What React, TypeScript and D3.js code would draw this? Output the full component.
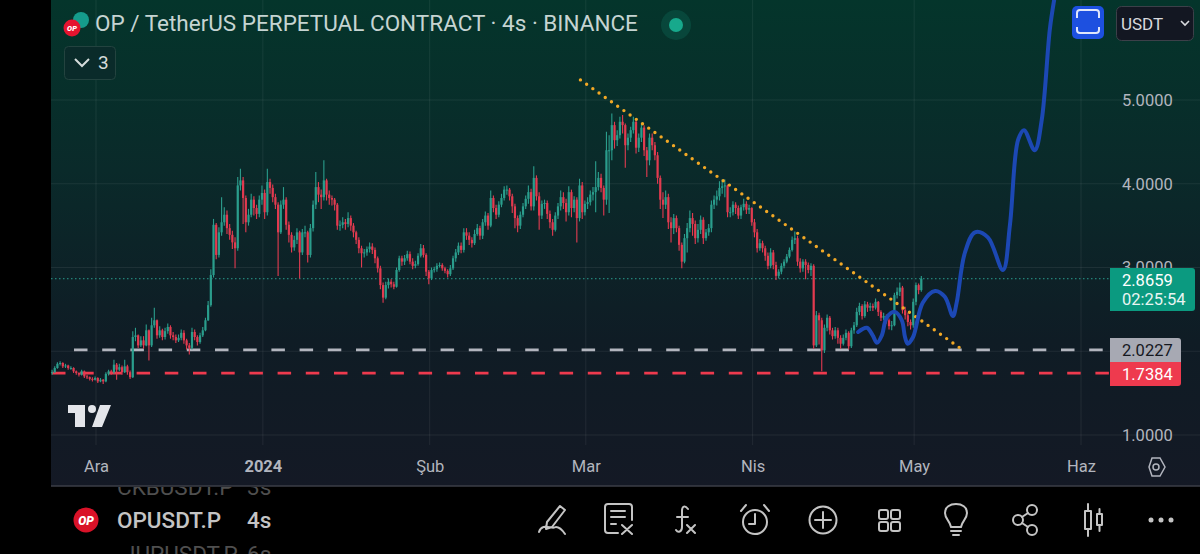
import { useEffect, useRef } from "react";
import * as d3 from "d3";

// 12h bars, oldest first
const closes = [
  1.75, 1.8, 1.85, 1.86, 1.82, 1.83, 1.8, 1.8, 1.76, 1.74,
  1.72, 1.76, 1.7, 1.69, 1.67, 1.66, 1.68, 1.64, 1.66, 1.64,
  1.73, 1.76, 1.75, 1.84, 1.78, 1.81, 1.75, 1.82, 1.75, 1.69,
  2.17, 2.19, 2.07, 2.13, 2.07, 2.25, 2.07, 2.31, 2.37, 2.19,
  2.25, 2.17, 2.24, 2.29, 2.19, 2.17, 2.13, 2.16, 2.22, 2.13,
  2.07, 2.04, 2.23, 2.17, 2.11, 2.19, 2.25, 2.37, 2.55, 2.91,
  3.51, 3.15, 3.42, 3.54, 3.63, 3.47, 3.39, 3.3, 3.23, 3.98,
  4.04, 3.83, 3.54, 3.63, 3.81, 3.71, 3.64, 3.81, 3.89, 3.66,
  4.02, 3.95, 3.84, 3.75, 3.42, 3.75, 3.81, 3.51, 3.39, 3.24,
  3.33, 3.42, 3.18, 3.42, 3.42, 3.15, 3.47, 3.75, 3.96, 3.87,
  3.84, 4.04, 3.87, 3.83, 3.81, 3.75, 3.5, 3.51, 3.54, 3.52,
  3.59, 3.5, 3.42, 3.33, 3.23, 3.17, 3.18, 3.22, 3.25, 3.21,
  3.11, 2.99, 2.79, 2.64, 2.79, 2.83, 2.8, 2.77, 2.97, 3.11,
  3.07, 3.11, 3.16, 3.07, 3.02, 3.04, 3.14, 3.23, 3.15, 2.95,
  2.87, 2.97, 2.98, 3.02, 3.03, 2.99, 2.96, 2.92, 2.99, 3.11,
  3.18, 3.26, 3.21, 3.42, 3.38, 3.33, 3.29, 3.4, 3.47, 3.38,
  3.54, 3.62, 3.5, 3.83, 3.71, 3.63, 3.75, 3.83, 3.93, 3.93,
  3.85, 3.73, 3.59, 3.5, 3.63, 3.73, 3.82, 3.9, 3.73, 4.07,
  3.85, 3.62, 3.76, 3.77, 3.64, 3.54, 3.45, 3.62, 3.73, 3.84,
  3.77, 3.66, 3.9, 3.71, 3.81, 3.59, 3.98, 3.66, 3.76, 3.78,
  3.87, 3.9, 3.96, 4.07, 3.95, 3.81, 4.4, 4.4, 4.7, 4.52,
  4.58, 4.74, 4.7, 4.46, 4.55, 4.64, 4.74, 4.43, 4.55, 4.67,
  4.4, 4.28, 4.55, 4.46, 4.34, 4.07, 3.81, 3.75, 3.84, 3.54,
  3.47, 3.59, 3.47, 3.27, 3.07, 3.35, 3.47, 3.59, 3.52, 3.35,
  3.45, 3.57, 3.35, 3.42, 3.47, 3.75, 3.81, 3.85, 3.95, 3.97,
  3.98, 3.66, 3.66, 3.75, 3.71, 3.62, 3.72, 3.76, 3.69, 3.71,
  3.54, 3.42, 3.23, 3.29, 3.23, 3.14, 3.02, 3.18, 3.03, 2.9,
  2.95, 3.02, 3.07, 3.13, 3.21, 3.33, 3.35, 3.07, 2.99, 3.07,
  3.03, 2.97, 3.02, 2.07, 2.43, 2.37, 2.01, 2.28, 2.4, 2.25,
  2.18, 2.25, 2.16, 2.09, 2.16, 2.22, 2.06, 2.25, 2.31, 2.47,
  2.54, 2.42, 2.56, 2.52, 2.54, 2.52, 2.59, 2.47, 2.4, 2.42,
  2.37, 2.3, 2.31, 2.67, 2.71, 2.76, 2.49, 2.43, 2.35, 2.31,
  2.59, 2.79, 2.73, 2.8659,
];

const highs = [
  1.78, 1.82, 1.87, 1.88, 1.87, 1.85, 1.84, 1.82, 1.81, 1.77,
  1.75, 1.78, 1.77, 1.72, 1.7, 1.69, 1.7, 1.69, 1.68, 1.67,
  1.75, 1.78, 1.78, 1.9, 1.86, 1.85, 1.83, 1.9, 1.84, 1.77,
  2.24, 2.28, 2.2, 2.18, 2.18, 2.32, 2.26, 2.4, 2.52, 2.38,
  2.3, 2.27, 2.28, 2.33, 2.31, 2.23, 2.2, 2.2, 2.26, 2.25,
  2.15, 2.1, 2.28, 2.26, 2.19, 2.22, 2.29, 2.4, 2.6, 2.98,
  3.58, 3.53, 3.48, 3.84, 3.72, 3.68, 3.52, 3.44, 3.36, 4.08,
  4.18, 4.08, 3.86, 3.7, 3.88, 3.85, 3.75, 3.86, 3.98, 3.93,
  4.18, 4.06, 3.99, 3.88, 3.78, 3.8, 3.96, 3.84, 3.55, 3.42,
  3.38, 3.47, 3.44, 3.46, 3.5, 3.44, 3.52, 3.8, 4.14, 4.02,
  3.93, 4.28, 4.06, 3.92, 3.86, 3.83, 3.77, 3.56, 3.6, 3.58,
  3.66, 3.62, 3.53, 3.44, 3.36, 3.26, 3.22, 3.25, 3.3, 3.29,
  3.24, 3.13, 3.02, 2.82, 2.83, 2.87, 2.86, 2.83, 3.0, 3.14,
  3.14, 3.15, 3.2, 3.19, 3.11, 3.08, 3.17, 3.28, 3.27, 3.17,
  2.97, 3.0, 3.01, 3.05, 3.06, 3.05, 3.01, 2.98, 3.03, 3.14,
  3.22, 3.3, 3.3, 3.47, 3.47, 3.42, 3.36, 3.45, 3.52, 3.5,
  3.58, 3.67, 3.65, 3.92, 3.86, 3.75, 3.79, 3.88, 3.97, 3.98,
  3.95, 3.88, 3.76, 3.62, 3.67, 3.77, 3.86, 3.98, 3.94, 4.21,
  4.1, 3.9, 3.8, 3.81, 3.8, 3.68, 3.58, 3.66, 3.77, 3.92,
  3.9, 3.82, 3.97, 3.93, 3.85, 3.84, 4.06, 4.02, 3.8, 3.84,
  3.92, 3.96, 4.27, 4.14, 4.12, 3.98, 4.62, 4.58, 4.84, 4.74,
  4.64, 4.8, 4.82, 4.72, 4.6, 4.68, 4.8, 4.76, 4.6, 4.72,
  4.7, 4.44, 4.6, 4.6, 4.5, 4.38, 4.1, 3.9, 3.92, 3.88,
  3.6, 3.64, 3.62, 3.5, 3.3, 3.4, 3.53, 3.68, 3.65, 3.56,
  3.52, 3.62, 3.6, 3.46, 3.52, 3.8, 3.86, 3.92, 4.03, 4.05,
  4.05, 3.99, 3.72, 3.79, 3.78, 3.74, 3.75, 3.82, 3.79, 3.75,
  3.72, 3.58, 3.46, 3.34, 3.32, 3.26, 3.18, 3.23, 3.21, 3.07,
  2.98, 3.05, 3.1, 3.16, 3.24, 3.37, 3.43, 3.38, 3.11, 3.1,
  3.1, 3.06, 3.05, 3.04, 2.48, 2.46, 2.4, 2.32, 2.44, 2.42,
  2.28, 2.29, 2.28, 2.19, 2.2, 2.26, 2.24, 2.28, 2.35, 2.52,
  2.58, 2.56, 2.6, 2.59, 2.58, 2.57, 2.63, 2.6, 2.49, 2.46,
  2.44, 2.39, 2.36, 2.7, 2.76, 2.82, 2.78, 2.53, 2.46, 2.38,
  2.63, 2.82, 2.81, 2.9,
];

const lows = [
  1.72, 1.74, 1.79, 1.83, 1.8, 1.8, 1.78, 1.78, 1.74, 1.72,
  1.7, 1.71, 1.68, 1.67, 1.65, 1.64, 1.65, 1.62, 1.63, 1.61,
  1.63, 1.71, 1.72, 1.73, 1.66, 1.76, 1.72, 1.74, 1.72, 1.67,
  1.68, 2.12, 2.04, 2.05, 2.03, 2.06, 1.89, 2.05, 2.28, 2.15,
  2.16, 2.13, 2.14, 2.21, 2.15, 2.13, 2.1, 2.11, 2.13, 2.09,
  2.02, 1.96, 2.02, 2.13, 2.07, 2.09, 2.17, 2.24, 2.36, 2.53,
  2.88, 3.1, 3.12, 3.38, 3.5, 3.4, 3.33, 3.22, 2.99, 3.2,
  3.92, 3.52, 3.42, 3.5, 3.6, 3.62, 3.58, 3.6, 3.75, 3.58,
  3.62, 3.88, 3.78, 3.7, 2.9, 3.4, 3.7, 3.45, 3.3, 3.18,
  3.2, 3.28, 2.87, 3.15, 3.36, 3.06, 3.12, 3.43, 3.7, 3.78,
  3.7, 3.8, 3.8, 3.75, 3.74, 3.68, 3.45, 3.44, 3.47, 3.45,
  3.48, 3.44, 3.36, 3.28, 3.17, 3.0, 3.12, 3.14, 3.18, 3.16,
  3.05, 2.94, 2.74, 2.58, 2.62, 2.75, 2.76, 2.74, 2.76, 2.95,
  3.02, 3.03, 3.08, 3.04, 2.98, 2.99, 3.02, 3.12, 3.12, 2.9,
  2.8, 2.85, 2.94, 2.95, 3.0, 2.96, 2.93, 2.88, 2.9, 2.97,
  3.07, 3.15, 3.17, 3.18, 3.33, 3.27, 3.24, 3.27, 3.38, 3.33,
  3.34, 3.5, 3.45, 3.48, 3.66, 3.58, 3.6, 3.72, 3.8, 3.87,
  3.8, 3.65, 3.47, 3.42, 3.46, 3.6, 3.7, 3.76, 3.68, 3.68,
  3.8, 3.45, 3.58, 3.7, 3.58, 3.47, 3.38, 3.43, 3.58, 3.68,
  3.7, 3.55, 3.62, 3.6, 3.66, 3.3, 3.55, 3.58, 3.62, 3.7,
  3.74, 3.8, 3.66, 3.92, 3.9, 3.62, 3.75, 3.65, 4.28, 4.42,
  4.45, 4.54, 4.6, 4.19, 4.4, 4.5, 4.6, 4.36, 4.38, 4.5,
  4.33, 4.08, 4.22, 4.4, 4.28, 4.0, 3.7, 3.59, 3.7, 3.46,
  3.3, 3.4, 3.42, 3.2, 2.99, 3.05, 3.18, 3.42, 3.38, 3.28,
  3.3, 3.4, 3.28, 3.32, 3.38, 3.42, 3.7, 3.74, 3.8, 3.88,
  3.84, 3.6, 3.6, 3.62, 3.64, 3.58, 3.58, 3.68, 3.64, 3.64,
  3.5, 3.36, 3.18, 3.2, 3.18, 3.08, 2.98, 2.99, 2.98, 2.85,
  2.87, 2.92, 2.99, 3.05, 3.11, 3.19, 3.28, 3.02, 2.94, 2.95,
  2.86, 2.93, 2.9, 2.03, 2.05, 2.08, 1.76, 1.98, 2.24, 2.2,
  2.14, 2.15, 2.09, 2.03, 2.07, 2.13, 2.02, 2.04, 2.21, 2.29,
  2.43, 2.38, 2.4, 2.47, 2.48, 2.48, 2.5, 2.42, 2.36, 2.37,
  2.33, 2.26, 2.25, 2.3, 2.63, 2.66, 2.45, 2.38, 2.3, 2.26,
  2.28, 2.55, 2.68, 2.71,
];

// hand-drawn projection, days counted from 1 Dec 2023
const forecastDays = [
  141.6, 143.2, 144.3, 145.1, 146, 146.9, 148.4, 149.7, 150.3, 150.8, 151.8, 153.6, 155.9, 157.7,
  159.2, 159.9, 161.4, 163.3, 165.7, 168.5, 169.8, 171.3, 172.4, 174.4, 175.7, 177.2, 178,
];
const forecastPrices = [
  2.23, 2.28, 2.19, 2.1, 2.19, 2.4, 2.47, 2.37, 2.17, 2.09, 2.17, 2.58, 2.72, 2.65,
  2.42, 2.58, 3.17, 3.42, 3.36, 2.97, 3.51, 4.52, 4.64, 4.4, 4.76, 5.84, 6.19,
];

const trendDays = [90, 160.5];
const trendPrices = [5.24, 2.04];

const priceTicks = [1, 2, 3, 4, 5];
const visiblePriceLabels = [1, 3, 4, 5];
const monthDates = [
  Date.UTC(2023, 11, 1),
  Date.UTC(2024, 0, 1),
  Date.UTC(2024, 1, 1),
  Date.UTC(2024, 2, 1),
  Date.UTC(2024, 3, 1),
  Date.UTC(2024, 4, 1),
  Date.UTC(2024, 5, 1),
];
const monthLabels = ["Ara", "2024", "Şub", "Mar", "Nis", "May", "Haz"];

const lastPrice = 2.8659;
const supportPrice = 2.0227;
const lowPrice = 1.7384;

const DAY = 86400000;
const dec1 = Date.UTC(2023, 11, 1);
const firstBar = Date.UTC(2023, 10, 22, 20);
const UP = "#2a9d8c";
const DOWN = "#e23a50";
const FONT = "Roboto, sans-serif";

const x = d3.scaleUtc().domain([dec1, Date.UTC(2024, 5, 1)]).range([96, 1081]);
const y = d3.scaleLinear().domain([1, 5]).range([435, 100]);

const forecastLine = d3
  .line<number>()
  .x((d) => x(dec1 + d * DAY))
  .y((_, i) => y(forecastPrices[i]))
  .curve(d3.curveCatmullRom.alpha(0.5));

export default function App() {
  const yAxisRef = useRef<SVGGElement>(null);
  const xAxisRef = useRef<SVGGElement>(null);

  useEffect(() => {
    document.body.style.margin = "0";
    document.body.style.background = "#000";
    const yAxis = d3
      .axisRight(y)
      .tickValues(visiblePriceLabels)
      .tickSize(0)
      .tickPadding(0)
      .tickFormat((d) => d3.format(".4f")(d as number));
    const yg = d3.select(yAxisRef.current!).call(yAxis as any);
    yg.select(".domain").remove();
    yg.selectAll("text")
      .attr("font-family", FONT)
      .attr("font-size", 16.5)
      .attr("fill", "#b2b5be");

    const xAxis = d3
      .axisBottom(x)
      .tickValues(monthDates as any)
      .tickSize(0)
      .tickPadding(0)
      .tickFormat((_, i) => monthLabels[i]);
    const xg = d3.select(xAxisRef.current!).call(xAxis as any);
    xg.select(".domain").remove();
    xg.selectAll("text")
      .attr("font-family", FONT)
      .attr("font-size", 16.5)
      .attr("fill", "#b2b5be")
      .attr("font-weight", (_, i) => (i === 1 ? 700 : 400));
  }, []);

  return (
    <svg
      width={1200}
      height={554}
      style={{ position: "fixed", left: 0, top: 0, display: "block", background: "#000" }}
    >
      <defs>
        <linearGradient id="bg" x1="0" y1="0" x2="0" y2="1">
          <stop offset="0" stopColor="#04352b" />
          <stop offset="0.35" stopColor="#0a2a2a" />
          <stop offset="0.7" stopColor="#0f1c25" />
          <stop offset="1" stopColor="#141925" />
        </linearGradient>
        <filter id="soft" x="0" y="0" width="1" height="1">
          <feGaussianBlur stdDeviation="0.45" />
        </filter>
        <clipPath id="footerClip">
          <rect x={0} y={487} width={1200} height={67} />
        </clipPath>
      </defs>
      <rect x={51} y={0} width={1149} height={486} fill="url(#bg)" />
      <line x1={51} x2={1200} y1={486} y2={486} stroke="#3b3e47" strokeWidth={1.5} />

      {/* grid */}
      {priceTicks.map((p) => (
        <line key={p} x1={51} x2={1200} y1={y(p)} y2={y(p)} stroke="#ffffff" strokeOpacity={0.07} />
      ))}
      {monthDates.map((d) => (
        <line key={d} x1={x(d)} x2={x(d)} y1={0} y2={445} stroke="#ffffff" strokeOpacity={0.07} />
      ))}

      {/* last price line */}
      <line
        x1={51}
        x2={1110}
        y1={y(lastPrice)}
        y2={y(lastPrice)}
        stroke="#2a9d8f"
        strokeDasharray="1.5 2.5"
        strokeWidth={1}
      />

      {/* levels */}
      <line
        x1={74}
        x2={1110}
        y1={y(supportPrice) + 0.5}
        y2={y(supportPrice) + 0.5}
        stroke="#b2b5be"
        strokeWidth={2.8}
        strokeDasharray="13.5 14.7"
      />
      <line
        x1={52}
        x2={1110}
        y1={y(lowPrice)}
        y2={y(lowPrice)}
        stroke="#ee3a4e"
        strokeWidth={2.8}
        strokeDasharray="13.5 14.7"
      />

      {/* candles */}
      <g filter="url(#soft)">
        {closes.map((c, i) => {
          const o = i === 0 ? 1.74 : closes[i - 1];
          const cx = x(firstBar + i * DAY * 0.5);
          const color = c >= o ? UP : DOWN;
          const top = y(Math.max(o, c));
          return (
            <g key={i}>
              <line x1={cx} x2={cx} y1={y(highs[i])} y2={y(lows[i])} stroke={color} strokeWidth={1.1} />
              <rect
                x={cx - 1.1}
                y={top}
                width={2.2}
                height={Math.max(1, y(Math.min(o, c)) - top)}
                fill={color}
              />
            </g>
          );
        })}
      </g>

      {/* trend line */}
      <line
        x1={x(dec1 + trendDays[0] * DAY)}
        x2={x(dec1 + trendDays[1] * DAY)}
        y1={y(trendPrices[0])}
        y2={y(trendPrices[1])}
        stroke="#f2a825"
        strokeWidth={3.4}
        strokeLinecap="round"
        strokeDasharray="0 7.6"
      />

      {/* projection */}
      <path
        d={forecastLine(forecastDays) ?? ""}
        fill="none"
        stroke="#1c48b4"
        strokeWidth={4}
        strokeLinecap="round"
      />

      <g ref={yAxisRef} transform="translate(1122,0)" />
      <g ref={xAxisRef} transform="translate(0,460)" />

      {/* price tags */}
      <path d="M1110 268 H1192 a3 3 0 0 1 3 3 V308 a3 3 0 0 1 -3 3 H1110 Z" fill="#0b9a80" />
      <text x={1122} y={286} fontFamily={FONT} fontSize={16.5} fill="#fff">
        {lastPrice.toFixed(4)}
      </text>
      <text x={1122} y={305} fontFamily={FONT} fontSize={16.5} fill="#e8f5f2">
        02:25:54
      </text>
      <path d="M1110 338 H1178 a3 3 0 0 1 3 3 V362 H1110 Z" fill="#a7a9b3" />
      <text x={1122} y={356} fontFamily={FONT} fontSize={16.5} fill="#15181f">
        {supportPrice.toFixed(4)}
      </text>
      <path d="M1110 362 H1181 V383 a3 3 0 0 1 -3 3 H1110 Z" fill="#ee3a4e" />
      <text x={1122} y={380} fontFamily={FONT} fontSize={16.5} fill="#fff">
        {lowPrice.toFixed(4)}
      </text>

      {/* legend */}
      <circle cx={81} cy={20} r={8} fill="#159c8c" />
      <circle cx={72} cy={28} r={8.5} fill="#e5142f" />
      <text x={72} y={31} textAnchor="middle" fontFamily={FONT} fontSize={7.5} fontWeight={900} fontStyle="italic" fill="#fff">
        OP
      </text>
      <text x={95} y={31} fontFamily={FONT} fontSize={22.5} fill="#c6d4d2">
        OP / TetherUS PERPETUAL CONTRACT · 4s · BINANCE
      </text>
      <circle cx={676} cy={25} r={15} fill="#14a085" fillOpacity={0.18} />
      <circle cx={676} cy={25} r={7} fill="#17a98c" />
      <rect x={64.5} y={46.5} width={51} height={33} rx={4} fill="#0a2b2a" stroke="#23433f" />
      <path d="M75 59 L82 66 L89 59" fill="none" stroke="#d5dcdb" strokeWidth={2} />
      <text x={98} y={69} fontFamily={FONT} fontSize={19} fill="#d5dcdb">
        3
      </text>

      {/* top right buttons */}
      <rect x={1072} y={6} width={32} height={33} rx={5} fill="#1d50e0" />
      <path
        d="M1077 18 V13 a3 3 0 0 1 3 -3 H1096 a3 3 0 0 1 3 3 V18 M1077 27 V30 a3 3 0 0 0 3 3 H1096 a3 3 0 0 0 3 -3 V27"
        fill="none"
        stroke="#dfe6fb"
        strokeWidth={2}
      />
      <rect x={1116.5} y={6.5} width={77} height={34} rx={5} fill="#131722" stroke="#3c4049" />
      <text x={1121} y={30} fontFamily={FONT} fontSize={17} fill="#d8dade">
        USDT
      </text>
      <path d="M1181 21 L1185 25 L1189 21" fill="none" stroke="#d8dade" strokeWidth={1.6} />

      {/* tradingview logo */}
      <path d="M68 405 H85 V427 H75 V413 H68 Z M100 405 H111 L102 427 H92 Z" fill="#e3e5ea" />
      <circle cx={92} cy={409} r={4} fill="#e3e5ea" />

      {/* settings */}
      <path d="M1149 467 L1152 458 H1160 L1165 467 L1160 476 H1152 Z" fill="none" stroke="#b2b5be" strokeWidth={1.5} />
      <circle cx={1156} cy={467} r={3} fill="none" stroke="#b2b5be" strokeWidth={1.5} />

      {/* footer, neighbours in the symbol list are cut by the chart and the screen edge */}
      <g clipPath="url(#footerClip)" fontFamily={FONT} fontSize={22.5} fill="#4f4f4f">
        <text x={117} y={495}>
          CKBUSDT.P
        </text>
        <text x={247} y={495}>
          3s
        </text>
        <text x={123} y={562}>
          JUPUSDT.P
        </text>
        <text x={247} y={562}>
          6s
        </text>
      </g>
      <circle cx={86} cy={520} r={12.5} fill="#d91228" />
      <text x={86} y={524.5} textAnchor="middle" fontFamily={FONT} fontSize={12} fontWeight={900} fontStyle="italic" fill="#fff">
        OP
      </text>
      <text x={117} y={528} fontFamily={FONT} fontSize={22.5} fontWeight={500} fill="#c4c4c4">
        OPUSDT.P
      </text>
      <text x={247} y={528} fontFamily={FONT} fontSize={22.5} fontWeight={500} fill="#c4c4c4">
        4s
      </text>

      {/* toolbar icons */}
      <g fill="none" stroke="#c4c4c4" strokeWidth={2} strokeLinecap="round" strokeLinejoin="round">
        {/* pencil */}
        <path d="M547 522 L560 506 L565 510 L552 527 L546 529 Z M539 532 C542 522 552 530 556 527 C560 527 563 531 565 534" />
        {/* notes */}
        <path d="M632 507 a3 3 0 0 0 -3 -3 H608 a3 3 0 0 0 -3 3 V530 a3 3 0 0 0 3 3 H618 M632 507 V520 M611 511 H625 M611 517 H625 M611 524 H616 M622 525 L632 534 M632 525 L622 534" />
        {/* fx */}
        <path d="M688 509 C685 505 682 506 682 511 V527 C682 532 678 533 676 530 M677 517 H688 M687 525 L695 533 M695 525 L687 533" />
        {/* alarm */}
        <circle cx={755} cy={522} r={12} />
        <path d="M755 514 V524 H749 M741 511 L746 505 M769 511 L764 505" />
        {/* add */}
        <circle cx={823} cy={520} r={13.5} />
        <path d="M823 512 V528 M815 520 H831" />
        {/* layout */}
        <rect x={879} y={510} width={9} height={9} rx={2} />
        <rect x={891} y={510} width={9} height={9} rx={2} />
        <rect x={879} y={522} width={9} height={9} rx={2} />
        <rect x={891} y={522} width={9} height={9} rx={2} />
        {/* bulb */}
        <path d="M951 527 C950 521 945 519 945 513 C945 507 950 504 956 504 C962 504 967 507 967 513 C967 519 962 521 961 527 Z M951 531 H961 M953 535 H959" />
        {/* share */}
        <circle cx={1032} cy={510} r={5} />
        <circle cx={1018} cy={520} r={5} />
        <circle cx={1032} cy={530} r={5} />
        <path d="M1022 517 L1028 513 M1022 523 L1028 527" />
        {/* candles */}
        <rect x={1085} y={511} width={6} height={18} />
        <path d="M1088 504 V511 M1088 529 V536" />
        <rect x={1097} y={514} width={5} height={11} />
        <path d="M1099.5 509 V514 M1099.5 525 V531" />
      </g>
      <g fill="#c4c4c4">
        <circle cx={1151} cy={520} r={2.5} />
        <circle cx={1161} cy={520} r={2.5} />
        <circle cx={1171} cy={520} r={2.5} />
      </g>
    </svg>
  );
}
